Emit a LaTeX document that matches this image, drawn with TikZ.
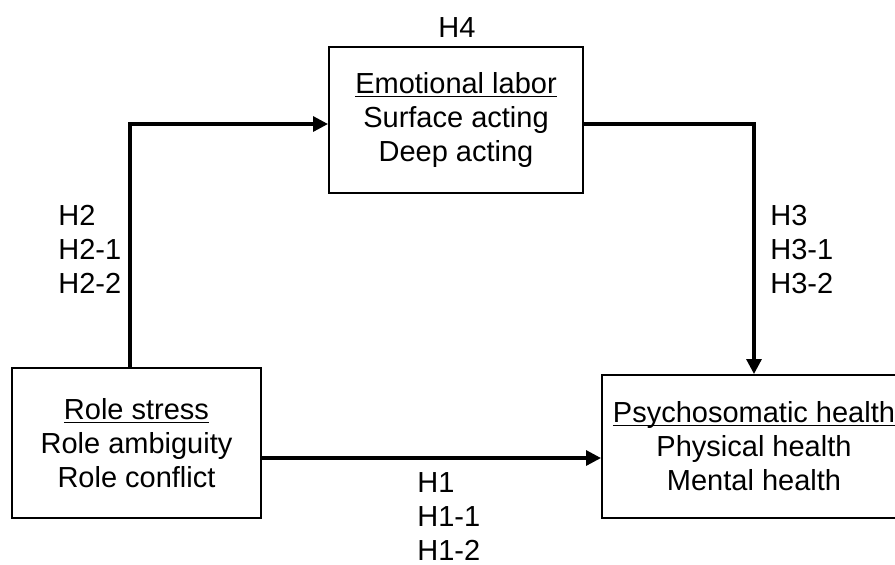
\documentclass[tikz,border=0pt]{standalone}
\usepackage{fontspec}
\setmainfont{Liberation Sans}
\usetikzlibrary{arrows.meta,positioning}
\newcommand{\ulhead}[1]{\underline{\raisebox{0pt}[\height][0pt]{#1}}}
\tikzset{
  varbox/.style={draw=black, line width=1pt, rectangle, align=center,
                 font=\fontsize{14.5}{17}\selectfont, inner sep=0pt},
  hyplabel/.style={align=left, anchor=north west, inner sep=0pt,
                 font=\fontsize{14.5}{17}\selectfont},
  patharr/.style={-{Triangle[length=7.5pt, width=7.5pt]}, line width=1.6pt, black}
}
\begin{document}
\begin{tikzpicture}[x=0.5pt, y=-0.5pt]
\useasboundingbox (0,0) rectangle (895,564);
\node[varbox, minimum width=124.5pt, minimum height=75pt] (role) at (136.5,443)
  {\ulhead{Role stress}\\Role ambiguity\\Role conflict};
\node[varbox, minimum width=127pt, minimum height=73pt] (emo) at (456,120)
  {\ulhead{Emotional labor}\\Surface acting\\Deep acting};
\node[varbox, minimum width=152pt, minimum height=71.5pt] (psy) at (754,446.5)
  {\ulhead{Psychosomatic health}\\Physical health\\Mental health};
% hypothesis labels
\node[hyplabel, anchor=north] (h4) at (457,17) {H4};
\node[hyplabel] (h2) at (58,205) {H2\\H2-1\\H2-2};
\node[hyplabel] (h3) at (770,205) {H3\\H3-1\\H3-2};
\node[hyplabel] (h1) at (417,472) {H1\\H1-1\\H1-2};
% paths
\coordinate (rs) at ([xshift=-3.25pt]role.north);
\coordinate (el) at ([yshift=-2pt]emo.west);
\coordinate (er) at ([yshift=-2pt]emo.east);
\coordinate (ro) at ([yshift=-7.5pt]role.east);
\draw[patharr] (rs) |- (el);
\draw[patharr] (er) -| (psy.north);
\draw[patharr] (ro) -- (ro -| psy.west);
\end{tikzpicture}
\end{document}
